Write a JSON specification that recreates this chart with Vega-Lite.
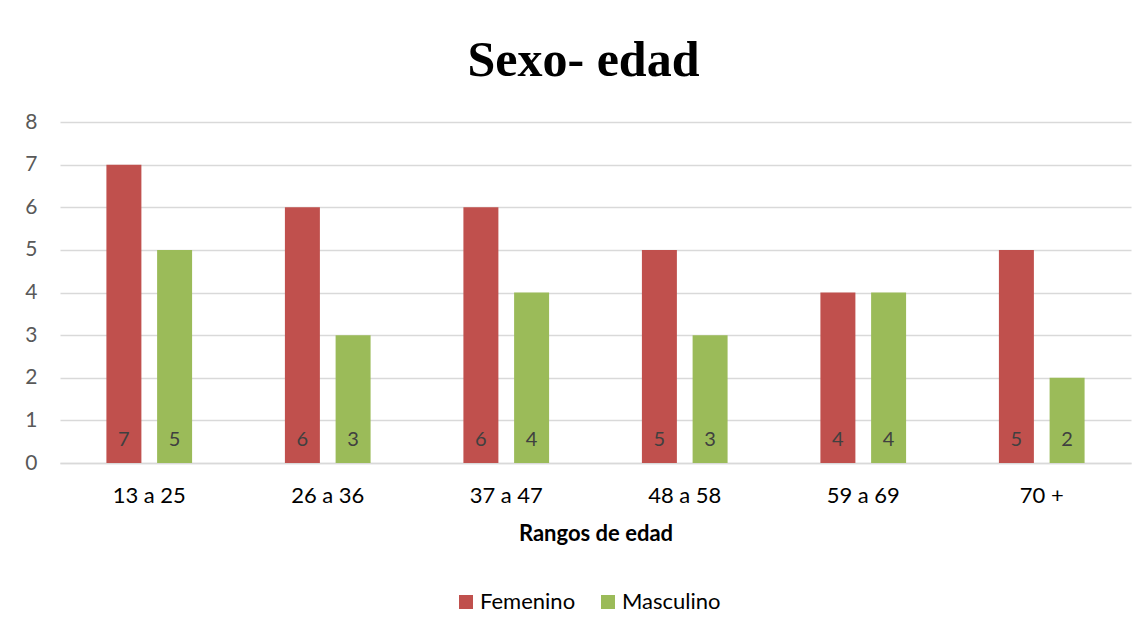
{
  "$schema": "https://vega.github.io/schema/vega-lite/v6.json",
  "width": 1071,
  "height": 341,
  "autosize": {"type": "none"},
  "padding": {"left": 60, "top": 122, "right": 17, "bottom": 169},
  "background": "white",
  "title": {
    "text": "Sexo- edad",
    "font": "Liberation Serif",
    "fontSize": 50,
    "fontWeight": "bold",
    "color": "#000000",
    "anchor": "middle",
    "baseline": "alphabetic",
    "offset": 42,
    "dx": -12,
    "dy": 57
  },
  "data": {
    "values": [
      {"rango": "13 a 25", "sexo": "Femenino", "n": 7},
      {"rango": "13 a 25", "sexo": "Masculino", "n": 5},
      {"rango": "26 a 36", "sexo": "Femenino", "n": 6},
      {"rango": "26 a 36", "sexo": "Masculino", "n": 3},
      {"rango": "37 a 47", "sexo": "Femenino", "n": 6},
      {"rango": "37 a 47", "sexo": "Masculino", "n": 4},
      {"rango": "48 a 58", "sexo": "Femenino", "n": 5},
      {"rango": "48 a 58", "sexo": "Masculino", "n": 3},
      {"rango": "59 a 69", "sexo": "Femenino", "n": 4},
      {"rango": "59 a 69", "sexo": "Masculino", "n": 4},
      {"rango": "70 +", "sexo": "Femenino", "n": 5},
      {"rango": "70 +", "sexo": "Masculino", "n": 2}
    ]
  },
  "encoding": {
    "x": {
      "field": "rango",
      "type": "nominal",
      "sort": null,
      "scale": {"paddingInner": 0.52, "paddingOuter": 0.26},
      "axis": {
        "title": "Rangos de edad",
        "titleFont": "Lato",
        "titleFontSize": 22,
        "titleFontWeight": "bold",
        "titleColor": "#000000",
        "titlePadding": 17,
        "labelAngle": 0,
        "labelFont": "Lato",
        "labelFontSize": 22,
        "labelColor": "#000000",
        "labelPadding": 22,
        "ticks": false,
        "domain": true,
        "domainColor": "#d9d9d9",
        "domainWidth": 1.5
      }
    },
    "xOffset": {
      "field": "sexo",
      "type": "nominal",
      "scale": {"paddingInner": 0.31, "paddingOuter": 0}
    }
  },
  "layer": [
    {
      "mark": {"type": "bar"},
      "encoding": {
        "y": {
          "field": "n",
          "type": "quantitative",
          "scale": {"domain": [0, 8]},
          "axis": {
            "title": null,
            "values": [0, 1, 2, 3, 4, 5, 6, 7, 8],
            "labelOverlap": false,
            "labelFont": "Lato",
            "labelFontSize": 21,
            "labelColor": "#595959",
            "labelPadding": 23,
            "ticks": false,
            "domain": false,
            "grid": true,
            "gridColor": "#d9d9d9",
            "gridWidth": 1.5
          }
        },
        "color": {
          "field": "sexo",
          "type": "nominal",
          "scale": {"domain": ["Femenino", "Masculino"], "range": ["#C0504D", "#9BBB59"]},
          "legend": {
            "title": null,
            "orient": "none",
            "legendX": 395,
            "legendY": 469,
            "direction": "horizontal",
            "symbolType": "square",
            "symbolSize": 196,
            "symbolStrokeWidth": 0,
            "labelOffset": 3,
            "labelFont": "Lato",
            "labelFontSize": 22,
            "labelColor": "#000000",
            "columnPadding": 21
          }
        }
      }
    },
    {
      "mark": {"type": "text", "baseline": "alphabetic", "dy": -17, "font": "Lato", "fontSize": 20, "color": "#404040"},
      "encoding": {
        "y": {
          "datum": 0,
          "type": "quantitative",
          "axis": {
            "title": null,
            "values": [0, 1, 2, 3, 4, 5, 6, 7, 8],
            "labelOverlap": false,
            "labelFont": "Lato",
            "labelFontSize": 21,
            "labelColor": "#595959",
            "labelPadding": 23,
            "ticks": false,
            "domain": false,
            "grid": true,
            "gridColor": "#d9d9d9",
            "gridWidth": 1.5
          }
        },
        "text": {"field": "n", "type": "quantitative"}
      }
    }
  ],
  "config": {
    "view": {"stroke": null}
  }
}
